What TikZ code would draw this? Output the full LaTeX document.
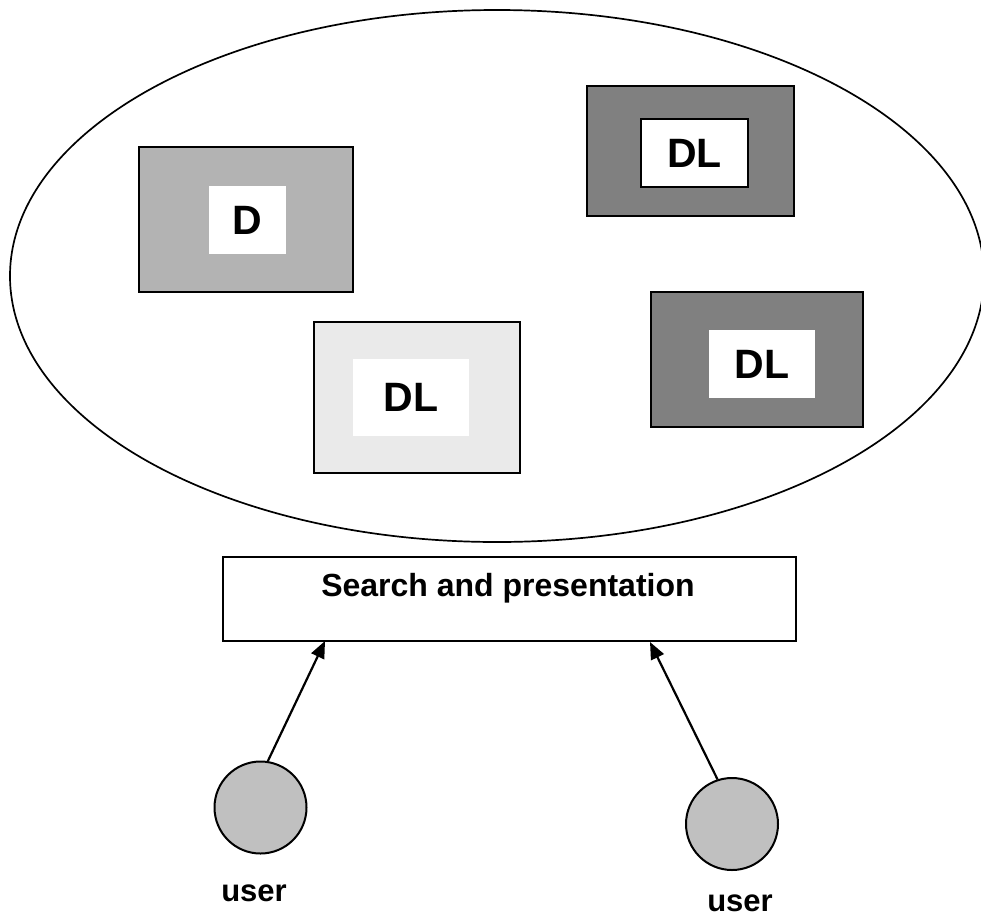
\documentclass[tikz,border=0pt]{standalone}
\usepackage{fontspec}
\setmainfont{Liberation Sans}
\usetikzlibrary{shapes.geometric,arrows.meta}
\definecolor{gD}{HTML}{B3B3B3}
\definecolor{gLight}{HTML}{EAEAEA}
\definecolor{gDark}{HTML}{808080}
\definecolor{gUser}{HTML}{C0C0C0}
\tikzset{
  outerbox/.style={draw=black, line width=2pt, inner sep=0pt},
  innerbox/.style={fill=white, inner sep=0pt, font=\fontsize{41}{41}\selectfont\bfseries},
  userdot/.style={circle, draw=black, line width=2pt, fill=gUser, minimum size=92pt, inner sep=0pt},
  usertext/.style={inner sep=0pt, font=\fontsize{31}{31}\selectfont\bfseries},
  uarrow/.style={line width=2.2pt, -{Triangle[length=17pt,width=14pt]}}
}
\begin{document}
\begin{tikzpicture}[x=1pt,y=-1pt]
\useasboundingbox (0,0) rectangle (981,919);
\node[ellipse, draw=black, line width=1.7pt, minimum width=974pt, minimum height=532pt, inner sep=0pt] (world) at (497,276) {};
% D box
\node[outerbox, fill=gD, minimum width=214pt, minimum height=145pt] (Dout) at (246,219.5) {};
\node[innerbox, minimum width=77pt, minimum height=68pt] (Din) at (247.5,220) {D};
% top DL
\node[outerbox, fill=gDark, minimum width=207pt, minimum height=130pt] (T1out) at (690.5,151) {};
\node[innerbox, draw=black, line width=1.6pt, minimum width=107pt, minimum height=68pt] (T1in) at (694.5,153) {DL};
% middle DL
\node[outerbox, fill=gLight, minimum width=206pt, minimum height=151pt] (Mout) at (417,397.5) {};
\node[innerbox, minimum width=116pt, minimum height=77pt] (Min) at (411,397.5) {DL};
% right DL
\node[outerbox, fill=gDark, minimum width=212pt, minimum height=135pt] (Rout) at (757,359.5) {};
\node[innerbox, minimum width=106pt, minimum height=68pt] (Rin) at (762,364) {DL};
% search box
\node[outerbox, fill=white, minimum width=573pt, minimum height=84pt] (search) at (509.5,599) {};
\node[inner sep=0pt, font=\fontsize{32}{32}\selectfont\bfseries] (searchtxt) at (508,588) {Search and presentation};
% users
\node[userdot] (u1) at (260.5,807.5) {};
\node[userdot] (u2) at (732,824) {};
\node[usertext] (u1t) at (254,893) {user};
\node[usertext] (u2t) at (740,903) {user};
% arrow targets
\coordinate (t1) at (325,641);
\coordinate (t2) at (650,642);
\draw[uarrow] (u1.81) -- (t1);
\draw[uarrow] (u2.108) -- (t2);
\end{tikzpicture}
\end{document}
